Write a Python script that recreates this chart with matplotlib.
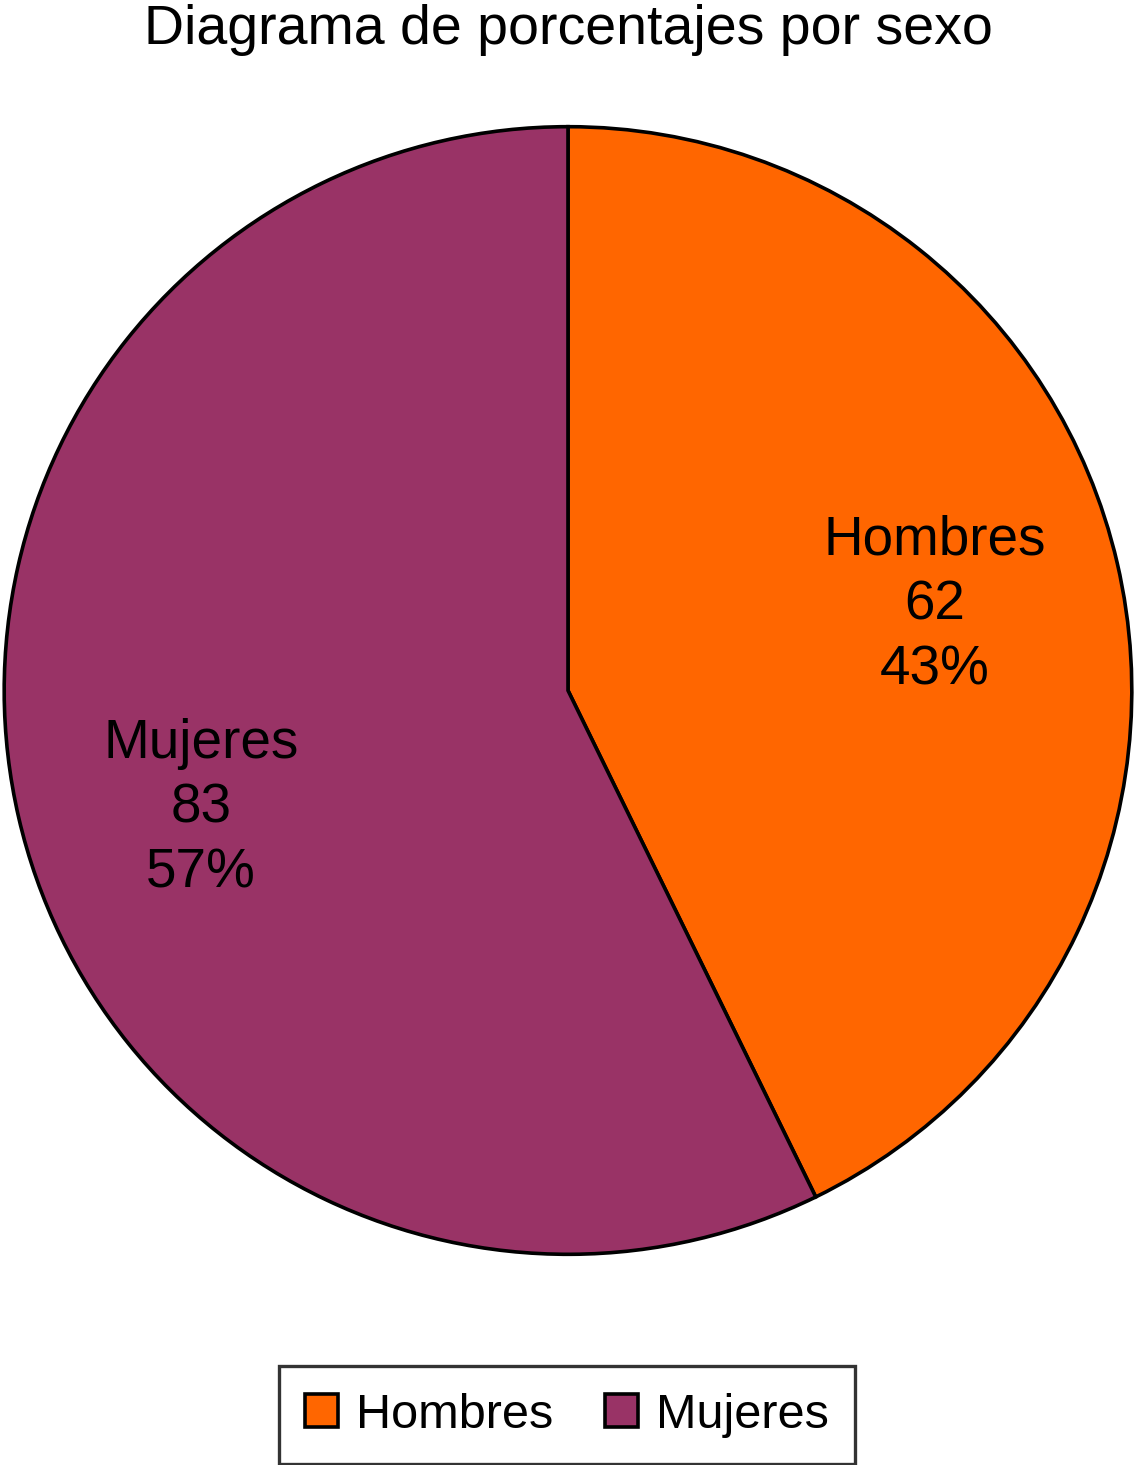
import matplotlib
matplotlib.use('Agg')
import matplotlib.pyplot as plt
import numpy as np

plt.rcParams['font.family'] = ['Liberation Sans', 'DejaVu Sans']

categories = ['Hombres', 'Mujeres']
counts = [62, 83]
colors = ['#FF6600', '#993366']
title = 'Diagrama de porcentajes por sexo'

# small vertical nudge of the in-slice labels
label_nudge = [0.0, -0.058]

fig = plt.figure(figsize=(11.36, 14.65), dpi=100)
ax = fig.add_axes([2 / 1136, 209 / 1465, 1132 / 1136, 1131 / 1465])

wedges, _ = ax.pie(counts, colors=colors, startangle=90, counterclock=False,
                   radius=1, wedgeprops=dict(edgecolor='black', linewidth=2.6))
ax.set_xlim(-1.003, 1.003)
ax.set_ylim(-1.003, 1.003)
ax.set_aspect('equal')
ax.axis('off')

total = sum(counts)
for w, name, n, dy in zip(wedges, categories, counts, label_nudge):
    mid = np.deg2rad((w.theta1 + w.theta2) / 2)
    pct = round(100 * n / total)
    ax.text(0.668 * np.cos(mid), 0.67 * np.sin(mid) + dy,
            f'{name}\n{n}\n{pct}%', ha='center', va='center',
            fontsize=39.5, linespacing=1.32)

fig.text(0.5, 1 - 30 / 1465, title, ha='center', va='center', fontsize=40)

leg = fig.legend(wedges, categories, loc='center', ncol=2,
                 bbox_to_anchor=(567 / 1136, 1 - 1415 / 1465),
                 fontsize=35, frameon=True, fancybox=False,
                 handlelength=0.68, handleheight=0.68, handletextpad=0.37,
                 columnspacing=1.05, borderpad=0.55)
leg.get_frame().set_edgecolor('black')
leg.get_frame().set_linewidth(2.4)

fig.savefig('out.png', dpi=100)
